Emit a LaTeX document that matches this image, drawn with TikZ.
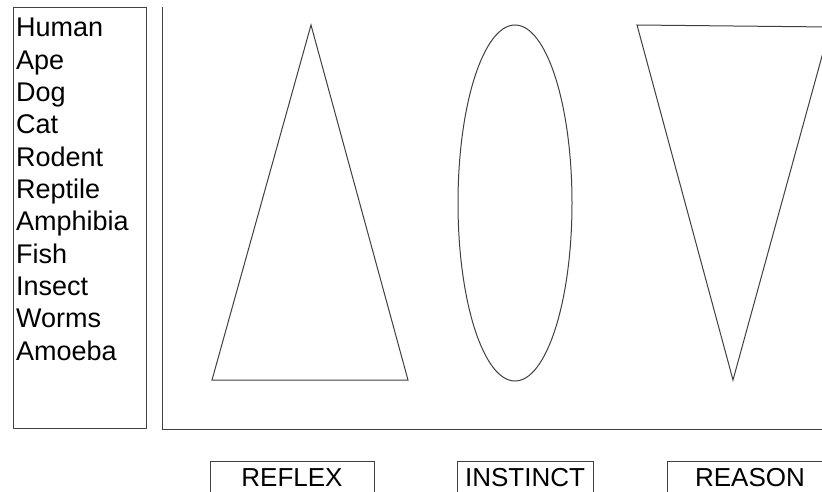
\documentclass[tikz,border=0pt]{standalone}
\usepackage{fontspec}
\setmainfont{Liberation Sans}
\usetikzlibrary{shapes.geometric}
\begin{document}
\begin{tikzpicture}[x=1pt,y=-1pt,
  ln/.style={draw=black!75,line width=1pt},
  item/.style={anchor=base west,inner sep=0pt,font=\fontsize{27}{32}\selectfont},
  lbl/.style={ln,minimum height=34pt,inner sep=0pt,font=\fontsize{26}{30}\selectfont}]
\useasboundingbox[fill=white] (0,0) rectangle (822,492);
\begin{scope}
\clip (0,0) rectangle (822,492);
% left list box
\node[ln,rectangle,minimum width=133pt,minimum height=421pt,anchor=north west,inner sep=0pt] (list) at (13,7) {};
\foreach \t [count=\i from 0] in {Human,Ape,Dog,Cat,Rodent,Reptile,Amphibia,Fish,Insect,Worms,Amoeba}
  \node[item] (it\i) at (16,{37+32.3*\i}) {\t};
% axes
\coordinate (top) at (162,7);
\coordinate (corner) at (162,429);
\coordinate (right) at (830,429);
\draw[ln] (top) -- (corner) -- (right);
% triangle
\coordinate (ta) at (311,25);
\coordinate (tl) at (212,380);
\coordinate (tr) at (408,380);
\draw[ln] (ta) -- (tl) -- (tr) -- cycle;
% ellipse
\node[ln,ellipse,minimum width=114pt,minimum height=356pt,inner sep=0pt] (ell) at (515,203) {};
% inverted triangle
\coordinate (vl) at (637,25);
\coordinate (vr) at (830,27);
\coordinate (vb) at (733,380);
\draw[ln] (vl) -- (vr) -- (vb) -- cycle;
% bottom labels
\node[lbl,minimum width=164pt] (reflex) at (292,478) {REFLEX};
\node[lbl,minimum width=136pt] (instinct) at (525,478) {INSTINCT};
\node[lbl,minimum width=166pt] (reason) at (750,478) {REASON};
\end{scope}
\end{tikzpicture}
\end{document}
